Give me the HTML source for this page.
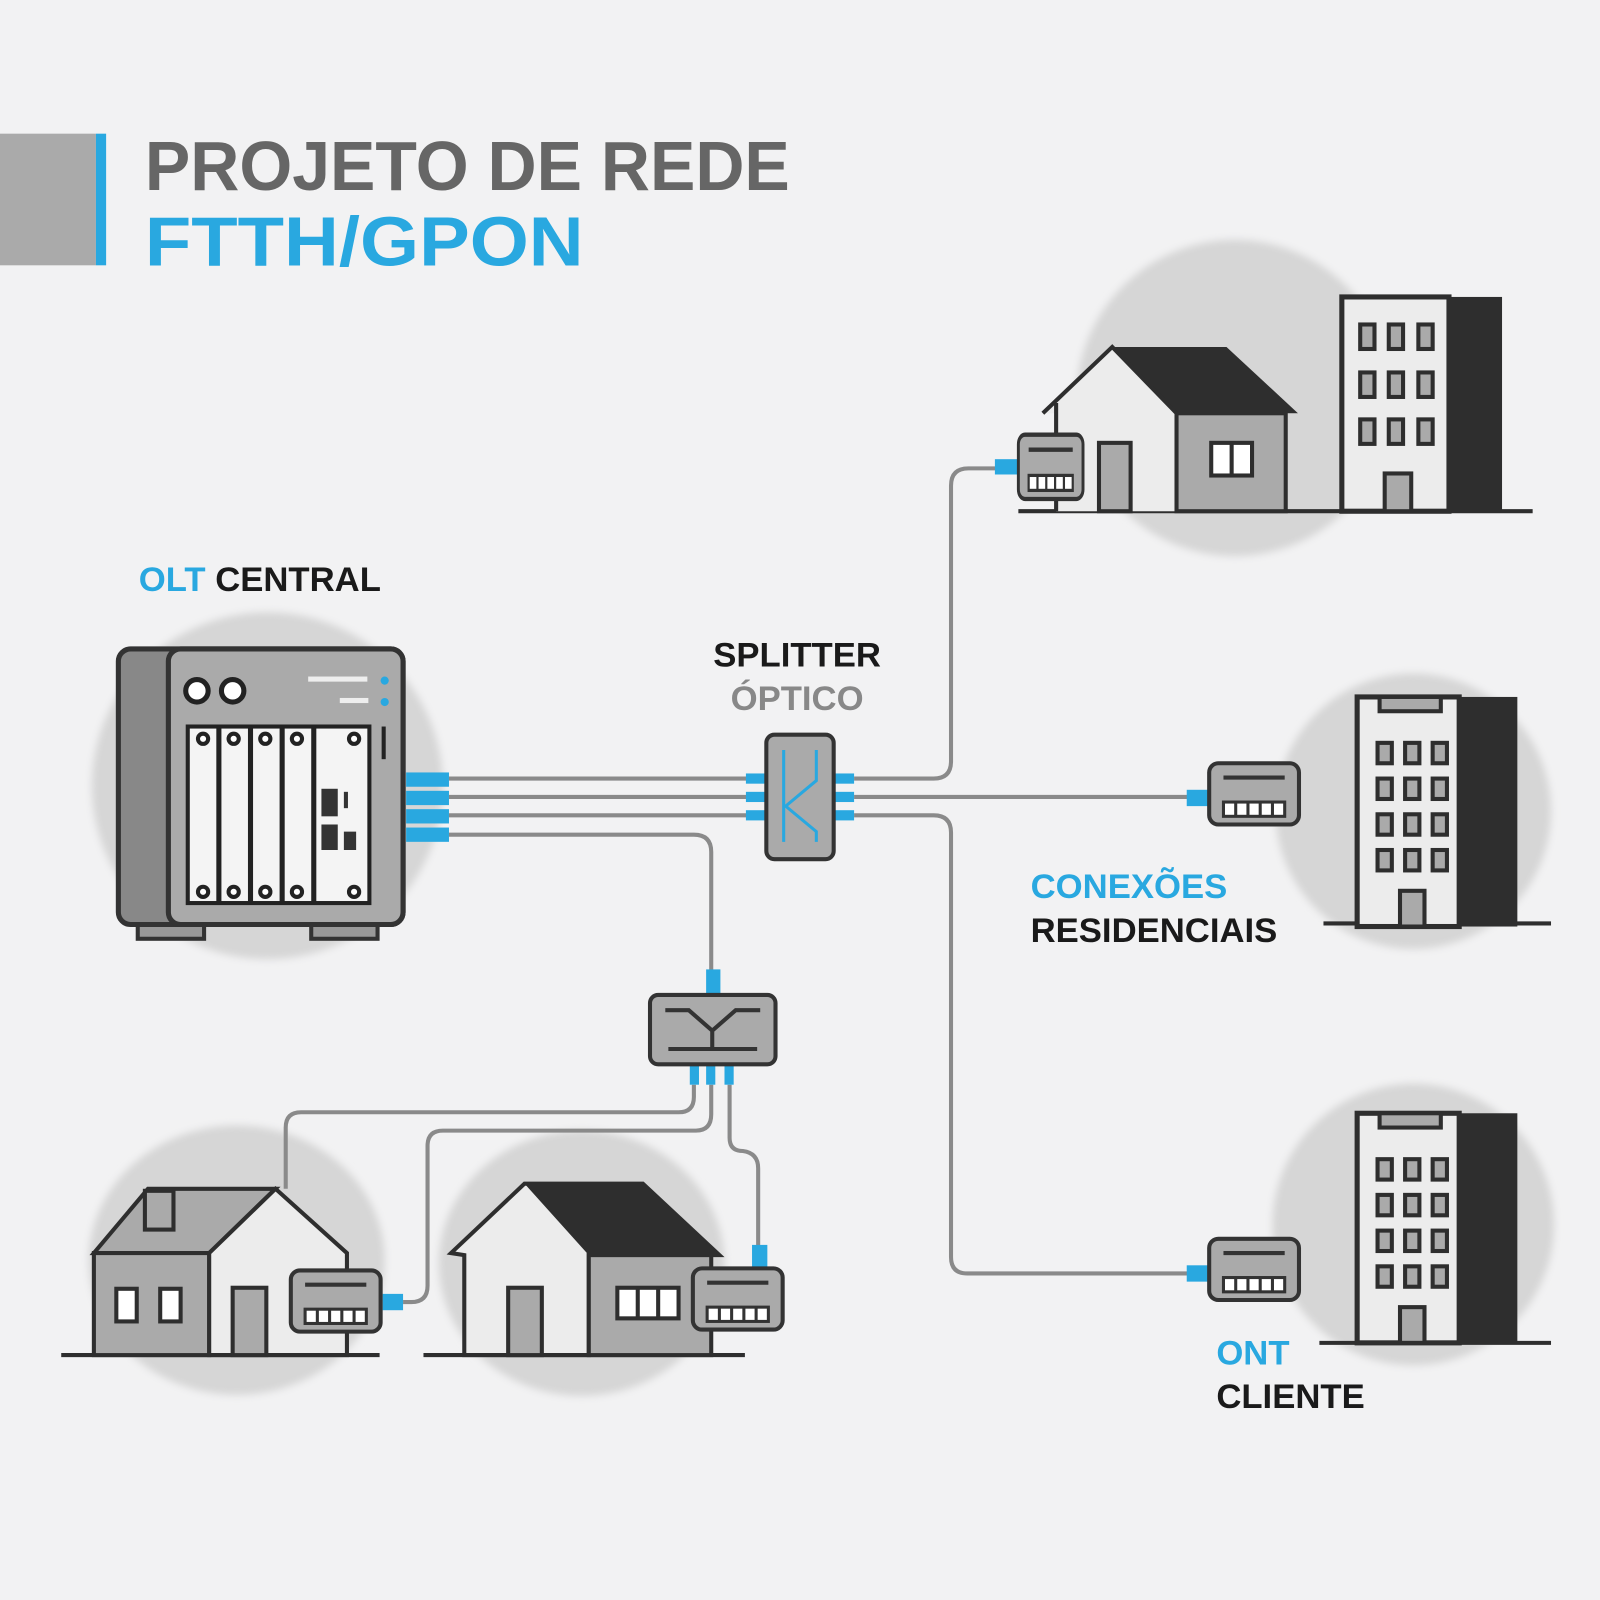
<!DOCTYPE html>
<html><head><meta charset="utf-8"><style>
html,body{margin:0;padding:0;background:#f2f2f3;}
svg{display:block}
text{font-family:"Liberation Sans",sans-serif;font-weight:bold}
</style></head><body>
<svg width="1600" height="1600" viewBox="0 0 1568 1568" xmlns="http://www.w3.org/2000/svg">
<defs>
<filter id="b" x="-20%" y="-20%" width="140%" height="140%"><feGaussianBlur stdDeviation="4"/></filter>
<g id="ont">
<rect x="0" y="0" width="88" height="60" rx="9" fill="#aaa" stroke="#333" stroke-width="4"/>
<line x1="14" y1="14" x2="74" y2="14" stroke="#333" stroke-width="4"/>
<rect x="14" y="38" width="60" height="14" fill="#fff" stroke="#333" stroke-width="3"/>
<path d="M26 38v14M38 38v14M50 38v14M62 38v14" stroke="#333" stroke-width="3"/>
</g>
<g id="bld">
<rect x="0" y="0" width="157" height="225" fill="#2e2e2e"/>
<rect x="0" y="0" width="100" height="225" fill="#ececec" stroke="#2e2e2e" stroke-width="5"/>
<g fill="#aaa" stroke="#2e2e2e" stroke-width="4">
<rect x="20" y="45" width="14" height="20"/><rect x="47" y="45" width="14" height="20"/><rect x="74" y="45" width="14" height="20"/>
<rect x="20" y="80" width="14" height="20"/><rect x="47" y="80" width="14" height="20"/><rect x="74" y="80" width="14" height="20"/>
<rect x="20" y="115" width="14" height="20"/><rect x="47" y="115" width="14" height="20"/><rect x="74" y="115" width="14" height="20"/>
<rect x="20" y="150" width="14" height="20"/><rect x="47" y="150" width="14" height="20"/><rect x="74" y="150" width="14" height="20"/>
<rect x="42" y="190" width="24" height="35"/>
</g>
<rect x="22" y="0" width="60" height="14" fill="#aaa" stroke="#2e2e2e" stroke-width="4"/>
</g>
</defs>
<rect width="1568" height="1568" fill="#f2f2f3"/>

<!-- title -->
<rect x="0" y="131" width="94" height="129" fill="#aaa"/>
<rect x="94" y="131" width="10" height="129" fill="#29a8e0"/>
<text x="142" y="186" font-size="68" fill="#666" textLength="632" lengthAdjust="spacingAndGlyphs">PROJETO DE REDE</text>
<text x="142" y="260" font-size="68" fill="#29a8e0" textLength="430" lengthAdjust="spacingAndGlyphs">FTTH/GPON</text>

<!-- bg circles -->
<g fill="#d6d6d6" filter="url(#b)">
<ellipse cx="262" cy="770" rx="172" ry="170"/>
<circle cx="1210" cy="390" r="155"/>
<circle cx="1385" cy="795" r="135"/>
<circle cx="1385" cy="1200" r="138"/>
<ellipse cx="232" cy="1235" rx="145" ry="132"/>
<ellipse cx="570" cy="1238" rx="140" ry="130"/>
</g>

<!-- labels -->
<text x="136" y="579" font-size="34" fill="#29a8e0">OLT <tspan fill="#1a1a1a">CENTRAL</tspan></text>
<text x="699" y="653" font-size="34" fill="#1a1a1a">SPLITTER</text>
<text x="716" y="696" font-size="34" fill="#888">ÓPTICO</text>
<text x="1010" y="880" font-size="34" fill="#29a8e0">CONEXÕES</text>
<text x="1010" y="923" font-size="34" fill="#1a1a1a">RESIDENCIAIS</text>
<text x="1192" y="1337" font-size="34" fill="#29a8e0">ONT</text>
<text x="1192" y="1380" font-size="34" fill="#1a1a1a">CLIENTE</text>

<!-- cables -->
<g fill="none" stroke="#8a8a8a" stroke-width="4">
<path d="M440 763H735M440 781H735M440 799H735"/>
<path d="M440 818H680Q697 818 697 835V952"/>
<path d="M837 763H915Q932 763 932 746V476Q932 459 949 459H980"/>
<path d="M837 781H1165"/>
<path d="M837 799H915Q932 799 932 816V1232Q932 1248 948 1248H1165"/>
<path d="M680 1063V1075Q680 1090 665 1090H295Q280 1090 280 1105V1165"/>
<path d="M697 1063V1092Q697 1108 682 1108H434Q419 1108 419 1123V1260Q419 1276 403 1276H395"/>
<path d="M715 1063V1115Q715 1128 728 1128Q743 1130 743 1145V1222"/>
</g>

<!-- OLT -->
<rect x="135" y="895" width="65" height="25" fill="#999" stroke="#333" stroke-width="4"/>
<rect x="305" y="895" width="65" height="25" fill="#999" stroke="#333" stroke-width="4"/>
<rect x="116" y="636" width="279" height="270" rx="12" fill="#888" stroke="#333" stroke-width="5"/>
<rect x="165" y="636" width="230" height="270" rx="12" fill="#aaa" stroke="#333" stroke-width="5"/>
<circle cx="193" cy="677" r="11" fill="#fff" stroke="#222" stroke-width="5"/>
<circle cx="228" cy="677" r="11" fill="#fff" stroke="#222" stroke-width="5"/>
<rect x="302" y="663" width="58" height="5" fill="#eee"/><rect x="333" y="684" width="28" height="5" fill="#eee"/>
<circle cx="377" cy="667" r="4" fill="#29a8e0"/><circle cx="377" cy="688" r="4" fill="#29a8e0"/>
<rect x="374" y="712" width="4" height="32" fill="#222"/>
<rect x="182" y="710" width="182" height="177" fill="#222"/>
<g fill="#f4f4f4"><rect x="186" y="714" width="26" height="169"/><rect x="217" y="714" width="26" height="169"/><rect x="248" y="714" width="26" height="169"/><rect x="279" y="714" width="26" height="169"/><rect x="310" y="714" width="50" height="169"/></g>
<g fill="#fff" stroke="#222" stroke-width="4"><circle cx="199" cy="724" r="5"/><circle cx="229" cy="724" r="5"/><circle cx="260" cy="724" r="5"/><circle cx="291" cy="724" r="5"/><circle cx="347" cy="724" r="5"/>
<circle cx="199" cy="874" r="5"/><circle cx="229" cy="874" r="5"/><circle cx="260" cy="874" r="5"/><circle cx="291" cy="874" r="5"/><circle cx="347" cy="874" r="5"/></g>
<rect x="315" y="773" width="16" height="27" fill="#333"/><rect x="315" y="808" width="16" height="25" fill="#333"/><rect x="337" y="815" width="12" height="18" fill="#333"/><rect x="337" y="776" width="4" height="16" fill="#333"/>
<g fill="#29a8e0"><rect x="398" y="757" width="42" height="14"/><rect x="398" y="775" width="42" height="14"/><rect x="398" y="793" width="42" height="14"/><rect x="398" y="811" width="42" height="14"/></g>

<!-- splitter -->
<g fill="#29a8e0"><rect x="731" y="758" width="20" height="10"/><rect x="731" y="776" width="20" height="10"/><rect x="731" y="794" width="20" height="10"/>
<rect x="817" y="758" width="20" height="10"/><rect x="817" y="776" width="20" height="10"/><rect x="817" y="794" width="20" height="10"/></g>
<rect x="751" y="720" width="66" height="122" rx="8" fill="#aaa" stroke="#333" stroke-width="4"/>
<path d="M768 735V825M800 735V765L770 790L800 815V825" fill="none" stroke="#29a8e0" stroke-width="3"/>

<!-- secondary splitter -->
<rect x="692" y="950" width="14" height="24" fill="#29a8e0"/>
<g fill="#29a8e0"><rect x="676" y="1043" width="9" height="20"/><rect x="692" y="1043" width="9" height="20"/><rect x="710" y="1043" width="9" height="20"/></g>
<rect x="637" y="975" width="123" height="68" rx="8" fill="#aaa" stroke="#333" stroke-width="4"/>
<path d="M652 990H675L698 1010L721 990H745M698 1010V1028M655 1028H742" fill="none" stroke="#333" stroke-width="4"/>

<!-- top right scene -->
<line x1="998" y1="501" x2="1502" y2="501" stroke="#2e2e2e" stroke-width="4"/>
<g>
<rect x="1315" y="291" width="157" height="210" fill="#2e2e2e"/>
<rect x="1315" y="291" width="105" height="210" fill="#ececec" stroke="#2e2e2e" stroke-width="5"/>
<g fill="#aaa" stroke="#2e2e2e" stroke-width="4">
<rect x="1333" y="318" width="14" height="24"/><rect x="1361" y="318" width="14" height="24"/><rect x="1390" y="318" width="14" height="24"/>
<rect x="1333" y="365" width="14" height="24"/><rect x="1361" y="365" width="14" height="24"/><rect x="1390" y="365" width="14" height="24"/>
<rect x="1333" y="411" width="14" height="24"/><rect x="1361" y="411" width="14" height="24"/><rect x="1390" y="411" width="14" height="24"/>
<rect x="1357" y="464" width="26" height="37"/>
</g>
</g>
<path d="M1022 405L1090 340H1202L1272 405H1260V501H1035V405Z" fill="#ececec"/>
<path d="M1090 340H1202L1272 405H1152Z" fill="#2e2e2e"/>
<rect x="1153" y="405" width="107" height="96" fill="#aaa" stroke="#2e2e2e" stroke-width="4"/>
<path d="M1022 405L1090 340L1153 405M1035 395V501" fill="none" stroke="#2e2e2e" stroke-width="4"/>
<rect x="1077" y="434" width="31" height="67" fill="#aaa" stroke="#2e2e2e" stroke-width="4"/>
<rect x="1187" y="434" width="40" height="32" fill="#fff" stroke="#2e2e2e" stroke-width="4"/><line x1="1207" y1="434" x2="1207" y2="466" stroke="#2e2e2e" stroke-width="4"/>
<rect x="975" y="450" width="22" height="15" fill="#29a8e0"/>
<g transform="translate(998,426) scale(0.72,1.05)"><use href="#ont"/></g>

<!-- middle right -->
<line x1="1297" y1="905" x2="1520" y2="905" stroke="#2e2e2e" stroke-width="4"/>
<g transform="translate(1330,683)"><use href="#bld"/></g>
<rect x="1163" y="774" width="22" height="16" fill="#29a8e0"/>
<g transform="translate(1185,748)"><use href="#ont"/></g>

<!-- bottom right -->
<line x1="1293" y1="1316" x2="1520" y2="1316" stroke="#2e2e2e" stroke-width="4"/>
<g transform="translate(1330,1091)"><use href="#bld"/></g>
<rect x="1163" y="1240" width="22" height="16" fill="#29a8e0"/>
<g transform="translate(1185,1214)"><use href="#ont"/></g>

<!-- bottom left house -->
<line x1="60" y1="1328" x2="372" y2="1328" stroke="#2e2e2e" stroke-width="4"/>
<path d="M92 1228L145 1165H270L205 1228Z" fill="#aaa" stroke="#2e2e2e" stroke-width="4"/>
<rect x="142" y="1167" width="28" height="38" fill="#aaa" stroke="#2e2e2e" stroke-width="4"/>
<rect x="92" y="1228" width="113" height="100" fill="#aaa" stroke="#2e2e2e" stroke-width="4"/>
<path d="M205 1228L270 1165L340 1228V1328H205Z" fill="#ececec" stroke="#2e2e2e" stroke-width="4"/>
<rect x="114" y="1263" width="20" height="32" fill="#fff" stroke="#2e2e2e" stroke-width="4"/>
<rect x="157" y="1263" width="20" height="32" fill="#fff" stroke="#2e2e2e" stroke-width="4"/>
<rect x="228" y="1262" width="33" height="66" fill="#aaa" stroke="#2e2e2e" stroke-width="4"/>
<rect x="375" y="1268" width="20" height="16" fill="#29a8e0"/>
<g transform="translate(285,1245)"><use href="#ont"/></g>

<!-- bottom mid house -->
<line x1="415" y1="1328" x2="730" y2="1328" stroke="#2e2e2e" stroke-width="4"/>
<path d="M442 1228L514 1160H630L705 1230H577V1328H455V1230Z" fill="#ececec" stroke="#2e2e2e" stroke-width="4"/>
<path d="M514 1160H630L705 1230H577Z" fill="#2e2e2e"/>
<rect x="577" y="1230" width="120" height="98" fill="#aaa" stroke="#2e2e2e" stroke-width="4"/>
<rect x="498" y="1262" width="33" height="66" fill="#aaa" stroke="#2e2e2e" stroke-width="4"/>
<rect x="605" y="1262" width="60" height="30" fill="#fff" stroke="#2e2e2e" stroke-width="4"/>
<path d="M625 1262v30M645 1262v30" stroke="#2e2e2e" stroke-width="4"/>
<rect x="737" y="1220" width="15" height="22" fill="#29a8e0"/>
<g transform="translate(679,1243)"><use href="#ont"/></g>
</svg>
</body></html>
